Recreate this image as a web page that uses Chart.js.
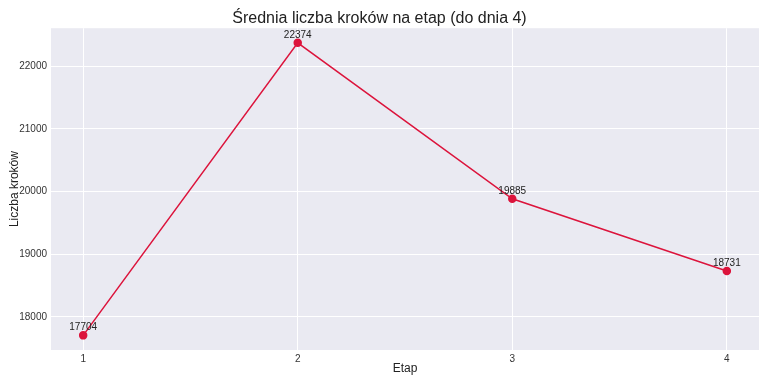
<!DOCTYPE html>
<html><head><meta charset="utf-8">
<script src="https://cdn.jsdelivr.net/npm/chart.js@4"></script>
<style>html,body{margin:0;padding:0;background:#fff}#wrap{width:768px;height:384px}</style>
</head><body><div id="wrap"><canvas id="c" width="768" height="384"></canvas></div>
<script>
const etapy = [1, 2, 3, 4];
const srednieKroki = [17704, 22374, 19885, 18731];
const yTicks = [18000, 19000, 20000, 21000, 22000];
const tytul = 'Średnia liczba kroków na etap (do dnia 4)';

const FONT = '"Liberation Sans", Arial, sans-serif';

const bgPlugin = {
  id: 'bg',
  beforeDraw(chart) {
    const {ctx, chartArea: a} = chart;
    ctx.save();
    ctx.fillStyle = '#eaeaf2';
    ctx.fillRect(a.left, a.top, a.right - a.left, a.bottom - a.top);
    ctx.restore();
  }
};
const labelPlugin = {
  id: 'vals',
  afterDatasetsDraw(chart) {
    const {ctx} = chart;
    const meta = chart.getDatasetMeta(0);
    ctx.save();
    ctx.font = '10px ' + FONT;
    ctx.fillStyle = '#222';
    ctx.textAlign = 'center';
    ctx.textBaseline = 'alphabetic';
    meta.data.forEach((p, i) => {
      ctx.fillText(String(srednieKroki[i]), p.x, p.y - 5);
    });
    ctx.restore();
  }
};

new Chart(document.getElementById('c'), {
  type: 'line',
  data: {
    datasets: [{
      data: etapy.map((x, i) => ({x, y: srednieKroki[i]})),
      borderColor: '#dc143c',
      backgroundColor: '#dc143c',
      borderWidth: 1.5,
      pointRadius: 3.5,
      pointHoverRadius: 3.5,
      tension: 0
    }]
  },
  options: {
    responsive: false,
    animation: false,
    layout: {padding: {left: 0, right: 9, top: 0, bottom: 8}},
    plugins: {
      legend: {display: false},
      tooltip: {enabled: false},
      title: {
        display: true, text: tytul, color: '#222',
        font: {family: FONT, size: 16, weight: 'normal'},
        padding: {top: 9, bottom: 0}
      }
    },
    scales: {
      x: {
        type: 'linear', min: 0.85, max: 4.15,
        afterBuildTicks(s) { s.ticks = etapy.map(v => ({value: v})); },
        afterFit(s) { s.height = 26; },
        grid: {color: '#ffffff', lineWidth: 1, drawTicks: false},
        border: {display: false},
        ticks: {color: '#333', font: {family: FONT, size: 10}, padding: 3, callback: v => String(v)},
        title: {display: true, text: 'Etap', color: '#222', font: {family: FONT, size: 12}, padding: {top: 0, bottom: 0}}
      },
      y: {
        type: 'linear', min: 17470.5, max: 22607.5,
        afterBuildTicks(s) { s.ticks = yTicks.map(v => ({value: v})); },
        afterFit(s) { s.width = 51; },
        grid: {color: '#ffffff', lineWidth: 1, drawTicks: false},
        border: {display: false},
        ticks: {color: '#333', font: {family: FONT, size: 10}, padding: 4, callback: v => String(v)},
        title: {display: true, text: 'Liczba kroków', color: '#222', font: {family: FONT, size: 12}, padding: {top: 7, bottom: 0}}
      }
    }
  },
  plugins: [bgPlugin, labelPlugin]
});
</script></body></html>
